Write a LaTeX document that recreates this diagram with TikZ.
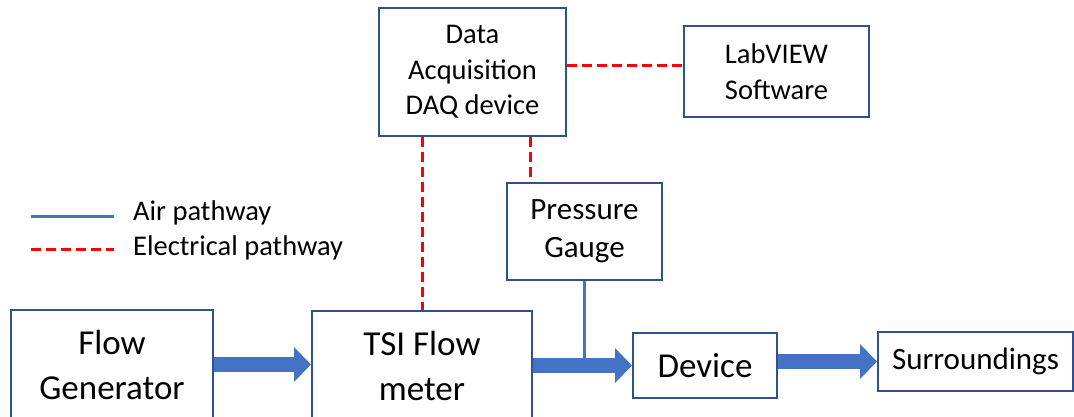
\documentclass[tikz,border=0pt]{standalone}
\usepackage{fontspec}
\setmainfont{Carlito}
\definecolor{boxblue}{RGB}{47, 82, 143}
\definecolor{airblue}{RGB}{68, 114, 196}
\definecolor{wirered}{RGB}{255, 0, 0}
\usetikzlibrary{arrows.meta, positioning, calc}

\begin{document}
\begin{tikzpicture}[x=1pt, y=-1pt,
  block/.style={draw=boxblue, line width=2pt, fill=white, align=center, inner sep=0pt},
  bigtext/.style={font=\fontsize{35}{45}\selectfont},
  midtext/.style={font=\fontsize{31}{38}\selectfont},
  smalltext/.style={font=\fontsize{28.5}{35.5}\selectfont},
  keytext/.style={font=\fontsize{28.5}{34}\selectfont, anchor=base west, inner sep=0pt},
  airflow/.style={airblue, line width=15pt, -{Triangle[width=34pt, length=17pt]}},
  airline/.style={airblue, line width=3pt},
  wire/.style={wirered, line width=3pt, dash pattern=on 10pt off 5pt},
]
  \useasboundingbox (0,0) rectangle (1074,417);

  % boxes
  \node[block, bigtext, minimum width=202pt, minimum height=110pt] (flowgen) at (112,365) {Flow\\Generator};
  \node[block, bigtext, minimum width=220pt, minimum height=110pt] (tsi) at (422,366) {TSI Flow\\meter};
  \node[block, bigtext, minimum width=144pt, minimum height=65pt] (device) at (705,365.5) {Device};
  \node[block, midtext, minimum width=195pt, minimum height=59pt] (surr) at (975.5,361.5) {Surroundings};
  \node[block, midtext, minimum width=155pt, minimum height=97pt] (gauge) at (584.5,231.5) {Pressure\\Gauge};
  \node[block, smalltext, minimum width=187pt, minimum height=128pt] (daq) at (472.5,72) {Data\\Acquisition\\DAQ device};
  \node[block, smalltext, minimum width=185pt, minimum height=91pt] (labview) at (776.5,71.5) {LabVIEW\\Software};

  % legend
  \node[keytext] (airkey) at (133,220) {Air pathway};
  \node[keytext] (wirekey) at (133,255) {Electrical pathway};
  \coordinate (airL) at (31,216);
  \coordinate (airR) at (114,216);
  \coordinate (wireL) at (31,249);
  \coordinate (wireR) at (114,249);
  \draw[airline] (airL) -- (airR);
  \draw[wire] (wireL) -- (wireR);

  % electrical pathway
  \draw[wire] ([yshift=6pt]daq.east) -- ([yshift=6pt]daq.east -| labview.west);
  \draw[wire] (tsi.north |- daq.south) -- (tsi.north);
  \draw[wire] ([xshift=57.5pt]daq.south) -- ([xshift=57.5pt]daq.south |- gauge.north);

  % air pathway
  \draw[airline] (gauge.south) -- (gauge.south |- device.west);
  \draw[airflow] (flowgen.east |- 0,364.5) -- (tsi.west |- 0,364.5);
  \draw[airflow] (tsi.east |- device.west) -- (device.west);
  \draw[airflow] (device.east |- surr.west) -- (surr.west);
\end{tikzpicture}
\end{document}
